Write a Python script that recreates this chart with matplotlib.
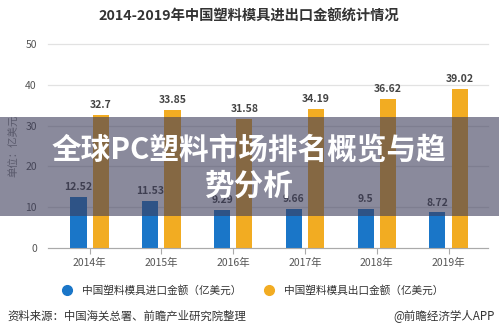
import matplotlib
matplotlib.use("Agg")
import matplotlib.pyplot as plt
import numpy as np
from matplotlib.lines import Line2D
from matplotlib.patches import Rectangle

plt.rcParams['font.family'] = ['Noto Sans CJK SC', 'DejaVu Sans']

years = ['2014年', '2015年', '2016年', '2017年', '2018年', '2019年']
imports = [12.52, 11.53, 9.29, 9.66, 9.5, 8.72]
exports = [32.7, 33.85, 31.58, 34.19, 36.62, 39.02]
yticks = [0, 10, 20, 30, 40, 50]

blue = '#1a76c8'
orange = '#f2ac22'
grey_txt = '#555555'

fig = plt.figure(figsize=(4.99, 3.34), dpi=100)
ax = fig.add_axes([48 / 499, 86 / 334, 440 / 499, 204 / 334])

x = np.arange(len(years))
w = 0.225
off = 0.155
ax.bar(x - off, imports, w, color=blue, zorder=3)
ax.bar(x + off, exports, w, color=orange, zorder=3)

for xi, v in zip(x, imports):
    ax.text(xi - off, v + 1.2, f'{v:g}', ha='center', va='bottom',
            fontsize=7.5, fontweight='bold', color='#444444')
for xi, v in zip(x, exports):
    ax.text(xi + off, v + 1.2, f'{v:g}', ha='center', va='bottom',
            fontsize=7.5, fontweight='bold', color='#444444')

ax.set_xlim(-0.58, 5.55)
ax.set_ylim(0, 50)
ax.set_yticks(yticks)
ax.set_xticks(x)
ax.set_xticklabels(years)
ax.grid(axis='y', color='#e2e2e2', lw=0.9, zorder=0)
for g in ax.get_ygridlines():
    g.set_clip_on(False)
for s in ['top', 'right', 'left']:
    ax.spines[s].set_visible(False)
ax.spines['bottom'].set_color('#aaaaaa')
ax.spines['bottom'].set_zorder(4)
ax.tick_params(axis='y', length=0, pad=8, labelsize=7.5, labelcolor=grey_txt)
ax.tick_params(axis='x', length=4, color='#aaaaaa', pad=3, labelsize=7.5,
               labelcolor=grey_txt)
ax.set_ylabel('单位：亿美元', fontsize=7.5, color='#888888', labelpad=4)

fig.text(249 / 499, 1 - 17 / 334, '2014-2019年中国塑料模具进出口金额统计情况',
         ha='center', va='center', fontsize=10.3, fontweight='bold', color='#333333')

handles = [Line2D([], [], marker='o', ls='', color=blue, markersize=7),
           Line2D([], [], marker='o', ls='', color=orange, markersize=7)]
fig.legend(handles, ['中国塑料模具进口金额（亿美元）', '中国塑料模具出口金额（亿美元）'],
           loc='center', bbox_to_anchor=(0.5, 1 - 290 / 334), ncol=2, frameon=False,
           fontsize=7.7, handletextpad=0.4, columnspacing=1.6, labelcolor='#333333')

fig.text(7 / 499, 1 - 316 / 334, '资料来源：中国海关总署、前瞻产业研究院整理',
         ha='left', va='center', fontsize=8.2, color='#333333')
fig.text(495 / 499, 1 - 316 / 334, '@前瞻经济学人APP',
         ha='right', va='center', fontsize=8.3, color='#333333')

# translucent banner across the middle of the chart
fig.patches.append(Rectangle((0, 118 / 334), 1, 99 / 334, transform=fig.transFigure,
                             facecolor='#3c3c5a', alpha=0.6, zorder=10))
fig.text(249 / 499, 1 - 150 / 334, '全球PC塑料市场排名概览与趋', ha='center', va='center',
         fontsize=21.3, fontweight='bold', color='white', zorder=11)
fig.text(249 / 499, 1 - 186 / 334, '势分析', ha='center', va='center',
         fontsize=21.3, fontweight='bold', color='white', zorder=11)

fig.savefig('out.png', dpi=100)
